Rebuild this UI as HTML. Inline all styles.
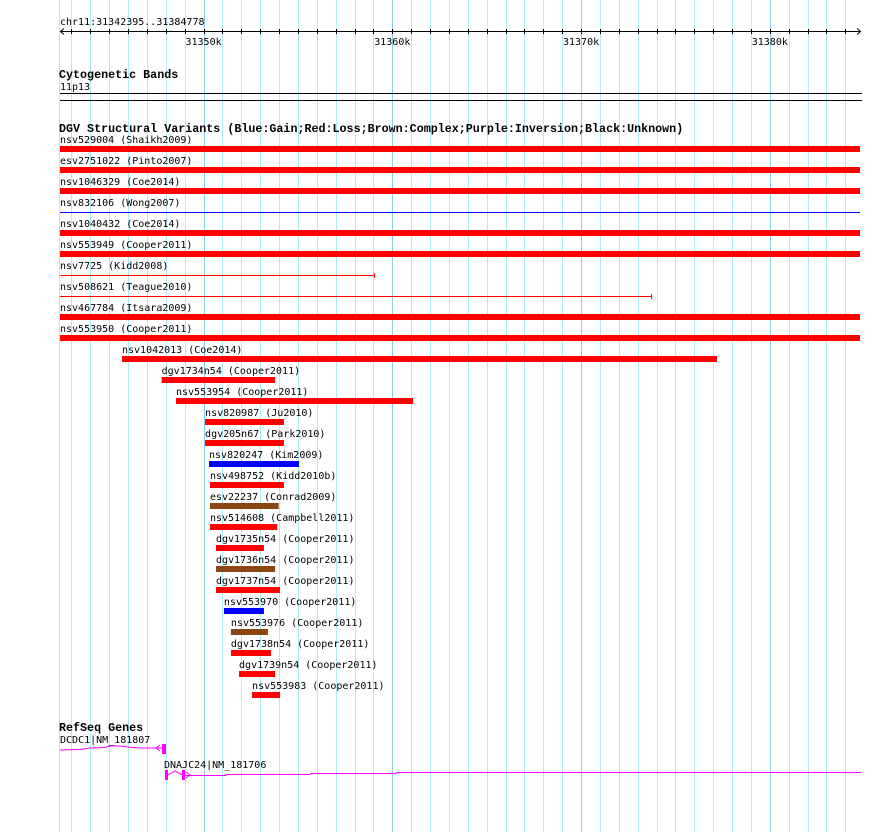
<!DOCTYPE html>
<html><head><meta charset="utf-8"><style>
html,body{margin:0;padding:0;background:#fff;}
svg{display:block;}
text{font-family:"DejaVu Sans Mono","Liberation Mono",monospace;font-size:10px;fill:#000;}
.b{font-family:"Liberation Mono",monospace;font-weight:bold;font-size:11.7px;}
</style></head><body>
<svg id="c" width="890" height="832" xmlns="http://www.w3.org/2000/svg"></svg>
<script>
const startKb = 31342.395, endKb = 31384.778;
const tickKbs = [31343,31344,31345,31346,31347,31348,31349,31350,31351,31352,31353,31354,31355,31356,31357,31358,31359,31360,31361,31362,31363,31364,31365,31366,31367,31368,31369,31370,31371,31372,31373,31374,31375,31376,31377,31378,31379,31380,31381,31382,31383,31384];
const tickLabels = ["31350k","31360k","31370k","31380k"];
const labelKbs = [31350,31360,31370,31380];
const svNames = ["nsv529004 (Shaikh2009)","esv2751022 (Pinto2007)","nsv1046329 (Coe2014)","nsv832106 (Wong2007)","nsv1040432 (Coe2014)","nsv553949 (Cooper2011)","nsv7725 (Kidd2008)","nsv508621 (Teague2010)","nsv467784 (Itsara2009)","nsv553950 (Cooper2011)","nsv1042013 (Coe2014)","dgv1734n54 (Cooper2011)","nsv553954 (Cooper2011)","nsv820987 (Ju2010)","dgv205n67 (Park2010)","nsv820247 (Kim2009)","nsv498752 (Kidd2010b)","esv22237 (Conrad2009)","nsv514608 (Campbell2011)","dgv1735n54 (Cooper2011)","dgv1736n54 (Cooper2011)","dgv1737n54 (Cooper2011)","nsv553970 (Cooper2011)","nsv553976 (Cooper2011)","dgv1738n54 (Cooper2011)","dgv1739n54 (Cooper2011)","nsv553983 (Cooper2011)"];
const svStarts = [31342.395,31342.395,31342.395,31342.395,31342.395,31342.395,31342.395,31342.395,31342.395,31342.395,31345.68,31347.78,31348.54,31350.08,31350.08,31350.29,31350.34,31350.34,31350.34,31350.66,31350.66,31350.66,31351.08,31351.45,31351.45,31351.88,31352.57];
const svEnds = [31384.778,31384.778,31384.778,31384.778,31384.778,31384.778,31359.08,31373.76,31384.778,31384.778,31377.20,31353.79,31361.10,31354.26,31354.26,31355.06,31354.26,31353.98,31353.90,31353.20,31353.79,31354.05,31353.20,31353.41,31353.57,31353.79,31354.05];
const svTypes = ["loss","loss","loss","gain-thin","loss","loss","loss-thin","loss-thin","loss","loss","loss","loss","loss","loss","loss","gain","loss","complex","loss","loss","complex","loss","gain","complex","loss","loss","loss"];

const X0=60, X1=860;
function xs(kb){return X0+(kb-startKb)/(endKb-startKb)*(X1-X0);}
const svg=document.getElementById('c');
const NS='http://www.w3.org/2000/svg';
function mk(tag,attrs,parent){const e=document.createElementNS(NS,tag);for(const k in attrs)e.setAttribute(k,attrs[k]);(parent||svg).appendChild(e);return e;}

const grid=mk('g',{});


mk('line',{x1:59.5,x2:59.5,y1:0,y2:832,stroke:'#b0eaf2','stroke-width':1},grid);
tickKbs.forEach(k=>{
  const x=Math.round(xs(k))+0.5;
  const major=(k%10===0);
  const l=mk('line',{x1:x,x2:x,y1:0,y2:832,stroke:major?'#88ccec':'#b0eaf2','stroke-width':1},grid);
  
  
});

const ruler=mk('g',{});


const t0=mk('text',{x:60,y:25},ruler);t0.textContent='chr11:31342395..31384778';


mk('line',{x1:60,x2:861,y1:31.5,y2:31.5,stroke:'#000'},ruler);
mk('path',{d:'M64,28.5 L60.5,31.5 L64,34.5 M857,28.5 L860.5,31.5 L857,34.5',stroke:'#000',fill:'none'},ruler);
tickKbs.forEach(k=>{const x=Math.round(xs(k))+0.5;mk('line',{x1:x,x2:x,y1:29,y2:34,stroke:'#000'},ruler);});
labelKbs.forEach((k,i)=>{
  const t=mk('text',{x:xs(k),y:45,'text-anchor':'middle'},ruler);t.textContent=tickLabels[i];
  
  
});

const cb=mk('text',{x:59,y:78,class:'b'});cb.textContent='Cytogenetic Bands';


const cb2=mk('text',{x:60,y:90});cb2.textContent='11p13';


mk('line',{x1:60,x2:862,y1:93.5,y2:93.5,stroke:'#000'});
mk('line',{x1:60,x2:862,y1:100.5,y2:100.5,stroke:'#000'});

const dt=mk('text',{x:59,y:132,class:'b'});dt.textContent='DGV Structural Variants (Blue:Gain;Red:Loss;Brown:Complex;Purple:Inversion;Black:Unknown)';


const colors={loss:'#ff0000',gain:'#0000ff',complex:'#8b4513'};
svNames.forEach((n,i)=>{
  const g=mk('g',{});
  
  
  const a=xs(svStarts[i]), b=xs(svEnds[i]);
  const by=146+i*21;
  const t=mk('text',{x:a,y:by-3},g);t.textContent=n;
  const ty=svTypes[i];
  if(ty.endsWith('-thin')){
    const c=ty.startsWith('gain')?'#0000ff':'#ff0000';
    mk('line',{x1:a,x2:b,y1:by+3.5,y2:by+3.5,stroke:c},g);
    if(b<X1-1) mk('line',{x1:b-0.5,x2:b-0.5,y1:by+1,y2:by+6,stroke:c},g);
  } else {
    mk('rect',{x:a,y:by,width:b-a,height:6,fill:colors[ty]},g);
  }
});

const rt=mk('text',{x:59,y:731,class:'b'});rt.textContent='RefSeq Genes';


const g1=mk('g',{});


mk('text',{x:60,y:743},g1).textContent='DCDC1|NM_181807';
mk('path',{d:'M60,750 L80,749.5 L90,748 L105,747.5 L110,746 L120,746 L128,747 L140,748 L155,748 L162,748',stroke:'#ff00ff',fill:'none'},g1);
mk('path',{d:'M160,745 L156,748 L160,751',stroke:'#ff00ff',fill:'none'},g1);
mk('rect',{x:162,y:744,width:4,height:10,fill:'#ff00ff'},g1);
const g2=mk('g',{});


mk('text',{x:164,y:768},g2).textContent='DNAJC24|NM_181706';
mk('rect',{x:165,y:770,width:3,height:10,fill:'#ff00ff'},g2);
mk('path',{d:'M168,775 L175,771 L182,775',stroke:'#ff00ff',fill:'none'},g2);
mk('rect',{x:182,y:770,width:3,height:10,fill:'#ff00ff'},g2);
mk('path',{d:'M186,772 L190,775 L186,778',stroke:'#ff00ff',fill:'none'},g2);
mk('path',{d:'M185,775.5 L226,775.5 L227,774.5 L310,774.5 L311,773.5 L396,773.5 L397,772.5 L861,772.5',stroke:'#ff00ff',fill:'none'},g2);
</script>
</body></html>
